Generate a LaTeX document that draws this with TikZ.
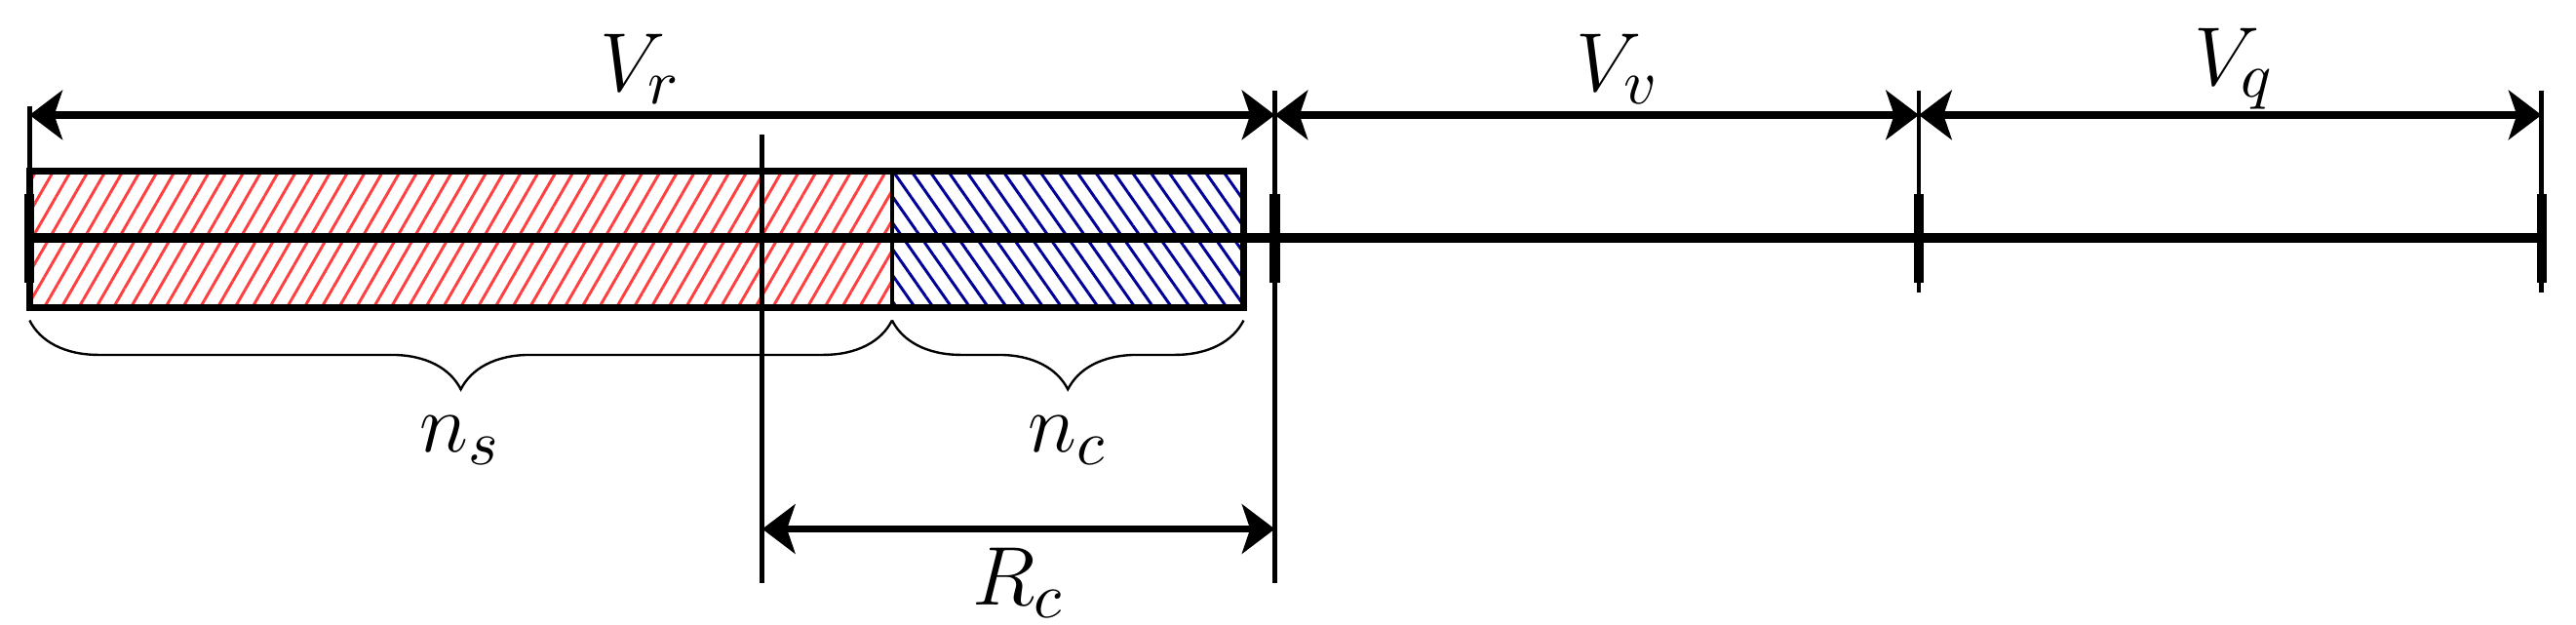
\documentclass[tikz,border=0pt]{standalone}
\usetikzlibrary{positioning,arrows.meta,patterns.meta,decorations.pathreplacing}
\newcommand{\sym}[2]{$#1_{#2}$}
\tikzset{
dim/.style = {draw, line width=1.3pt, {Stealth[length=0.2cm,width=0.3cm,inset=0.05cm]}-{Stealth[length=0.2cm,width=0.3cm,inset=0.05cm]}},
tick/.style = {line width=0.8pt},
bold/.style = {line width=1.7pt},
lbl/.style = {font=\fontsize{15}{17}\selectfont, inner sep=1pt},
brc/.style = {decorate, decoration={brace, mirror, amplitude=0.42cm}, line width=0.4pt}
}
\begin{document}
\begin{tikzpicture}[x=0.01cm, y=-0.01cm]
\useasboundingbox (0,0) rectangle (1568,380);
% hatched blocks
\path[pattern={Lines[angle=60,distance=2.6pt,line width=0.5pt]}, pattern color=red!75] (18,104) rectangle (543,187);
\path[pattern={Lines[angle=-55,distance=2.6pt,line width=0.5pt]}, pattern color=blue!60!black] (543,104) rectangle (757,187);
\draw[tick, line width=1.2pt] (18,104) rectangle (757,187);
\draw[tick] (543,104) -- (543,187);
% reference points
\coordinate (a) at (18,145);
\coordinate (b) at (776,145);
\coordinate (c) at (1168,145);
\coordinate (d) at (1547,145);
\draw[bold] (a) -- (d);
\foreach \p/\top/\bot in {a/65/185, b/55/355, c/55/178, d/55/178}
  {\draw[tick] (\p |- 0,\top) -- (\p |- 0,\bot);
   \draw[bold] (\p |- 0,118) -- (\p |- 0,172);}
\draw[tick] (464,82) -- (464,355);
% dimensions
\coordinate (va) at (18,70);
\coordinate (vb) at (776,70);
\coordinate (vc) at (1168,70);
\coordinate (vd) at (1547,70);
\draw[dim] (va) -- (vb);
\draw[dim] (vb) -- (vc);
\draw[dim] (vc) -- (vd);
\node[lbl] (Vr) at (390,42) {\sym{V}{r}};
\node[lbl] (Vv) at (985,42) {\sym{V}{v}};
\node[lbl] (Vq) at (1360,42) {\sym{V}{q}};
\coordinate (ra) at (464,322);
\coordinate (rb) at (776,322);
\draw[dim] (ra) -- (rb);
\node[lbl] (Rc) at (620,355) {\sym{R}{c}};
% braces
\draw[brc] (18,195) -- (543,195);
\draw[brc] (543,195) -- (757,195);
\node[lbl] (ns) at (280,268) {\sym{n}{s}};
\node[lbl] (nc) at (650,268) {\sym{n}{c}};
\end{tikzpicture}
\end{document}
